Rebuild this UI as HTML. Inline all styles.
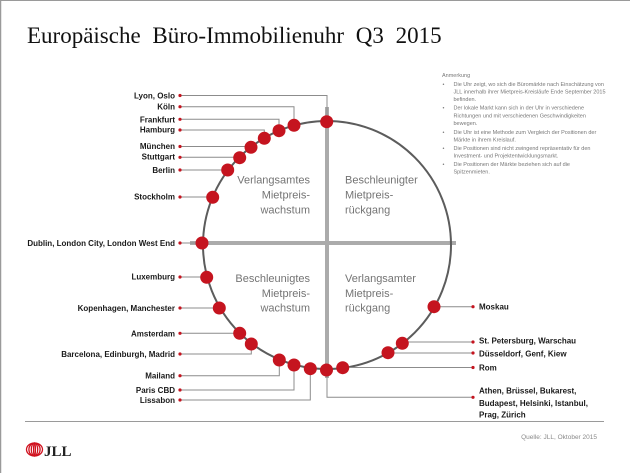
<!DOCTYPE html>
<html><head><meta charset="utf-8"><style>
html,body{margin:0;padding:0;background:#fff;}
svg{display:block;}
.lb{font-family:"Liberation Sans",Arial,sans-serif;font-weight:bold;font-size:8px;fill:#1a1a1a;}
.q{font-family:"Liberation Sans",Arial,sans-serif;font-size:11px;fill:#747474;}
.n{font-family:"Liberation Sans",Arial,sans-serif;font-size:11px;fill:#777;}
</style></head><body>
<svg width="630" height="473" viewBox="0 0 630 473" xmlns="http://www.w3.org/2000/svg">
<rect x="0" y="0" width="630" height="473" fill="#fff"/>
<line x1="0" y1="0.5" x2="630" y2="0.5" stroke="#9a9a9a" stroke-width="1"/>
<line x1="0.5" y1="0" x2="0.5" y2="473" stroke="#9a9a9a" stroke-width="1.5"/>

<text x="27" y="43" font-family="'Liberation Serif','Times New Roman',serif" font-size="23" fill="#111" word-spacing="6">Europäische Büro-Immobilienuhr Q3 2015</text>

<!-- Anmerkung -->
<g transform="scale(0.5)">
<text class="n" x="884" y="154">Anmerkung</text>
<g class="n">
<text x="885" y="172">•</text><text x="907" y="172">Die Uhr zeigt, wo sich die Büromärkte nach Einschätzung von</text>
<text x="907" y="187">JLL innerhalb ihrer Mietpreis-Kreisläufe Ende September 2015</text>
<text x="907" y="202">befinden.</text>
<text x="885" y="219">•</text><text x="907" y="219">Der lokale Markt kann sich in der Uhr in verschiedene</text>
<text x="907" y="235">Richtungen und mit verschiedenen Geschwindigkeiten</text>
<text x="907" y="250">bewegen.</text>
<text x="885" y="268">•</text><text x="907" y="268">Die Uhr ist eine Methode zum Vergleich der Positionen der</text>
<text x="907" y="283">Märkte in ihrem Kreislauf.</text>
<text x="885" y="300">•</text><text x="907" y="300">Die Positionen sind nicht zwingend repräsentativ für den</text>
<text x="907" y="315">Investment- und Projektentwicklungsmarkt.</text>
<text x="885" y="332">•</text><text x="907" y="332">Die Positionen der Märkte beziehen sich auf die</text>
<text x="907" y="347">Spitzenmieten.</text>
</g>
</g>

<!-- cross bars -->
<line x1="327" y1="107" x2="327" y2="378" stroke="#ababab" stroke-width="4"/>
<line x1="190" y1="243" x2="456" y2="243" stroke="#ababab" stroke-width="4"/>

<!-- circle -->
<circle cx="327" cy="245" r="124" fill="none" stroke="#5c5c5c" stroke-width="2"/>

<!-- quadrant labels -->
<g class="q" text-anchor="end">
<text x="310" y="183.5">Verlangsamtes</text>
<text x="310" y="198.5">Mietpreis-</text>
<text x="310" y="213.5">wachstum</text>
<text x="310" y="282">Beschleunigtes</text>
<text x="310" y="297">Mietpreis-</text>
<text x="310" y="311.5">wachstum</text>
</g>
<g class="q">
<text x="345" y="183.5">Beschleunigter</text>
<text x="345" y="198.5">Mietpreis-</text>
<text x="345" y="213.5">rückgang</text>
<text x="345" y="282">Verlangsamter</text>
<text x="345" y="297">Mietpreis-</text>
<text x="345" y="311.5">rückgang</text>
</g>

<!-- leader lines -->
<g fill="none" stroke="#8c8c8c" stroke-width="1">
<polyline points="180,95.5 327,95.5 327,115"/>
<polyline points="180,106.7 294,106.7 294,125"/>
<polyline points="180,119.3 279,119.3 279,130"/>
<polyline points="180,130 264.3,130 264.3,138"/>
<polyline points="180,146.5 251,146.5"/>
<polyline points="180,157.3 239.7,157.3"/>
<polyline points="180,170 227.7,170"/>
<polyline points="180,197 212.7,197"/>
<polyline points="180,243 202,243"/>
<polyline points="180,277 206.7,277"/>
<polyline points="180,308 219.3,308"/>
<polyline points="180,333.3 239.7,333.3"/>
<polyline points="180,354 251.3,354 251.3,344"/>
<polyline points="180,375.7 279.3,375.7 279.3,360"/>
<polyline points="180,390 294,390 294,365"/>
<polyline points="180,400 310.3,400 310.3,368.7"/>
<polyline points="327,370 327,397.3 473,397.3"/>
<polyline points="342.7,367.5 473,367.5"/>
<polyline points="388,353 473,353"/>
<polyline points="402.3,342 473,342"/>
<polyline points="434,306.7 473,306.7"/>
</g>

<!-- big dots -->
<g fill="#c5141f">
<circle cx="326.7" cy="121.7" r="6.5"/>
<circle cx="294" cy="125.3" r="6.5"/>
<circle cx="279" cy="130.7" r="6.5"/>
<circle cx="264.3" cy="138.3" r="6.5"/>
<circle cx="251" cy="147.3" r="6.5"/>
<circle cx="239.7" cy="157.7" r="6.5"/>
<circle cx="227.7" cy="170" r="6.5"/>
<circle cx="212.7" cy="197.3" r="6.5"/>
<circle cx="202" cy="243" r="6.5"/>
<circle cx="206.7" cy="277.3" r="6.5"/>
<circle cx="219.3" cy="308" r="6.5"/>
<circle cx="239.7" cy="333.3" r="6.5"/>
<circle cx="251.3" cy="344" r="6.5"/>
<circle cx="279.3" cy="360" r="6.5"/>
<circle cx="294" cy="365" r="6.5"/>
<circle cx="310.3" cy="368.7" r="6.5"/>
<circle cx="326.5" cy="370" r="6.5"/>
<circle cx="342.7" cy="367.7" r="6.5"/>
<circle cx="388" cy="352.7" r="6.5"/>
<circle cx="402.3" cy="343.3" r="6.5"/>
<circle cx="434" cy="306.7" r="6.5"/>
</g>

<!-- small dots -->
<g fill="#c5141f">
<circle cx="180" cy="95.5" r="1.6"/>
<circle cx="180" cy="106.7" r="1.6"/>
<circle cx="180" cy="119.3" r="1.6"/>
<circle cx="180" cy="130" r="1.6"/>
<circle cx="180" cy="146.5" r="1.6"/>
<circle cx="180" cy="157.3" r="1.6"/>
<circle cx="180" cy="170" r="1.6"/>
<circle cx="180" cy="197" r="1.6"/>
<circle cx="180" cy="243" r="1.6"/>
<circle cx="180" cy="277" r="1.6"/>
<circle cx="180" cy="308" r="1.6"/>
<circle cx="180" cy="333.3" r="1.6"/>
<circle cx="180" cy="354" r="1.6"/>
<circle cx="180" cy="375.7" r="1.6"/>
<circle cx="180" cy="390" r="1.6"/>
<circle cx="180" cy="400" r="1.6"/>
<circle cx="473" cy="306.7" r="1.6"/>
<circle cx="473" cy="342" r="1.6"/>
<circle cx="473" cy="353" r="1.6"/>
<circle cx="473" cy="367.5" r="1.6"/>
<circle cx="473" cy="397.3" r="1.6"/>
</g>

<!-- left labels -->
<g class="lb" text-anchor="end">
<text x="175" y="98.5">Lyon, Oslo</text>
<text x="175" y="109.7">Köln</text>
<text x="175" y="122.3">Frankfurt</text>
<text x="175" y="132.3">Hamburg</text>
<text x="175" y="149">München</text>
<text x="175" y="159.7">Stuttgart</text>
<text x="175" y="173">Berlin</text>
<text x="175" y="199.7">Stockholm</text>
<text x="175" y="246">Dublin, London City, London West End</text>
<text x="175" y="279.7">Luxemburg</text>
<text x="175" y="311">Kopenhagen, Manchester</text>
<text x="175" y="336.3">Amsterdam</text>
<text x="175" y="357">Barcelona, Edinburgh, Madrid</text>
<text x="175" y="378.7">Mailand</text>
<text x="175" y="393">Paris CBD</text>
<text x="175" y="403">Lissabon</text>
</g>

<!-- right labels -->
<g class="lb">
<text x="479" y="309.7">Moskau</text>
<text x="479" y="343.7">St. Petersburg, Warschau</text>
<text x="479" y="356.3">Düsseldorf, Genf, Kiew</text>
<text x="479" y="370.3">Rom</text>
<text x="479" y="393.7">Athen, Brüssel, Bukarest,</text>
<text x="479" y="405.9">Budapest, Helsinki, Istanbul,</text>
<text x="479" y="417.5">Prag, Zürich</text>
</g>

<!-- footer -->
<line x1="25" y1="421.5" x2="604" y2="421.5" stroke="#9a9a9a" stroke-width="1"/>
<text x="597" y="439" text-anchor="end" font-family="'Liberation Sans',Arial,sans-serif" font-size="6.5" fill="#8a8a8a">Quelle: JLL, Oktober 2015</text>

<!-- JLL logo -->
<g fill="none" stroke="#d0121f" stroke-width="1.3">
<ellipse cx="34.5" cy="449.5" rx="8" ry="6.5"/>
<ellipse cx="34.5" cy="449.5" rx="5.6" ry="6.5"/>
<ellipse cx="34.5" cy="449.5" rx="3.2" ry="6.5"/>
<ellipse cx="34.5" cy="449.5" rx="0.9" ry="6.5"/>
</g>
<text x="44" y="456" font-family="'Liberation Serif','Times New Roman',serif" font-weight="bold" font-size="15" fill="#222">JLL</text>
</svg>
</body></html>
